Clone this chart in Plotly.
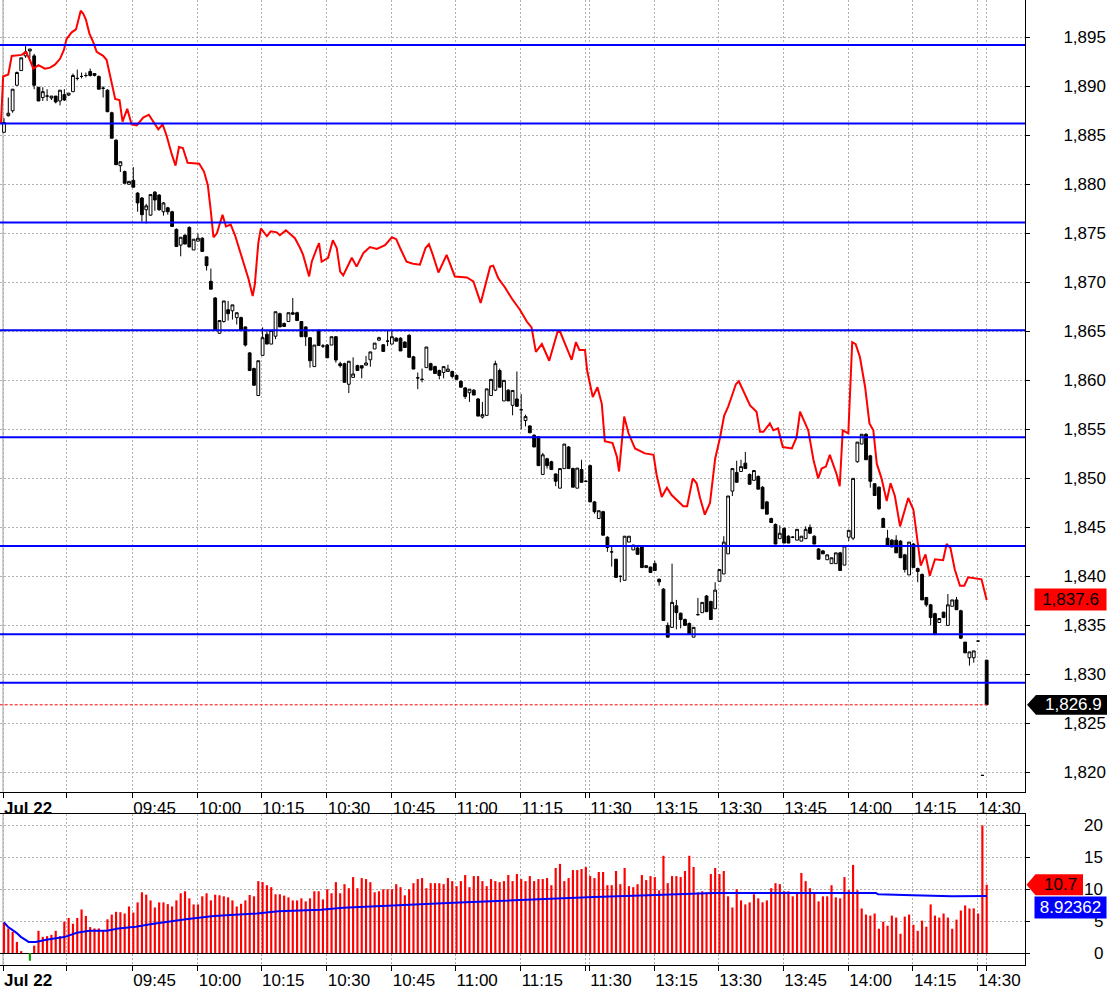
import plotly.graph_objects as go

# ---------------- data (1-minute bars, Jul 22) ----------------
opens = [
    1885.3, 1887.0, 1887.5, 1890.1, 1891.6, 1893.1, 1893.6, 1893.1, 1889.9, 1888.85,
    1889.0, 1888.8, 1889.0, 1888.5, 1889.15, 1889.1, 1889.45, 1890.8, 1891.0, 1891.1,
    1891.5, 1891.1, 1891.0, 1889.8, 1889.6, 1887.3, 1884.5, 1881.9, 1881.3, 1880.0,
    1880.4, 1879.1, 1878.6, 1877.4, 1876.85, 1879.2, 1878.9, 1877.2, 1877.6, 1877.2,
    1875.4, 1873.8, 1874.8, 1875.6, 1873.3, 1874.2, 1874.5, 1872.6, 1870.1, 1868.4,
    1864.8, 1866.0, 1867.2, 1867.1, 1866.4, 1866.4, 1865.45, 1862.8, 1861.2, 1858.45,
    1862.55, 1864.7, 1863.7, 1864.5, 1866.8, 1865.8, 1866.0, 1866.9, 1866.9, 1866.0,
    1865.45, 1864.35, 1861.4, 1865.1, 1863.5, 1863.6, 1863.6, 1864.45, 1861.7, 1861.7,
    1859.6, 1860.3, 1861.5, 1861.5, 1861.55, 1862.1, 1863.2, 1864.1, 1863.63, 1864.0,
    1863.7, 1864.3, 1864.3, 1863.9, 1864.6, 1862.4, 1860.25, 1860.1, 1861.3, 1861.7,
    1861.4, 1861.0, 1860.8, 1860.9, 1860.9, 1860.5, 1859.9, 1859.23, 1858.73, 1859.0,
    1858.1, 1856.25, 1856.43, 1858.45, 1859.0, 1861.0, 1857.9, 1859.0, 1857.45, 1858.1,
    1857.0, 1855.9, 1855.35, 1854.4, 1854.25, 1850.4, 1852.0, 1851.7, 1850.45, 1849.0,
    1851.0, 1853.2, 1851.0, 1849.0, 1850.9, 1849.7, 1851.3, 1847.6, 1845.9, 1846.6,
    1844.0, 1842.5, 1841.75, 1840.0, 1839.6, 1843.5, 1842.7, 1842.9, 1843.0, 1840.9,
    1840.95, 1841.3, 1839.7, 1838.7, 1835.0, 1834.8, 1837.0, 1836.25, 1835.6, 1835.2,
    1833.8, 1836.1, 1836.3, 1838.0, 1837.45, 1836.7, 1839.5, 1840.25, 1842.3, 1848.7,
    1850.6, 1850.7, 1851.55, 1850.4, 1849.8, 1850.2, 1849.1, 1847.6, 1845.9, 1845.3,
    1843.85, 1844.9, 1844.1, 1844.0, 1843.7, 1843.6, 1843.85, 1845.0, 1844.1, 1842.8,
    1842.6, 1841.7, 1841.3, 1841.3, 1842.4, 1841.15, 1844.0, 1843.9, 1851.7, 1853.5,
    1854.5, 1852.3, 1849.45, 1849.1, 1845.9, 1843.9, 1843.7, 1843.7, 1843.6, 1842.2,
    1840.15, 1843.3, 1840.8, 1840.2, 1837.85, 1837.1, 1836.2, 1835.3, 1836.35, 1835.0,
    1836.95, 1837.6, 1836.5, 1833.3, 1831.7, 1831.7, 1833.4, 1819.7, 1831.45,
]
highs = [
    1886.75, 1888.85, 1889.7, 1891.5, 1892.9, 1894.1, 1893.8, 1893.3, 1889.9, 1889.9,
    1889.7, 1889.0, 1889.0, 1889.6, 1889.7, 1889.3, 1891.3, 1891.7, 1891.4, 1891.4,
    1891.8, 1891.3, 1891.1, 1890.0, 1889.7, 1887.4, 1884.6, 1882.3, 1881.4, 1880.3,
    1881.75, 1879.2, 1878.7, 1878.0, 1879.0, 1879.3, 1879.0, 1878.2, 1877.7, 1877.3,
    1875.5, 1874.6, 1874.9, 1875.7, 1874.4, 1875.0, 1874.6, 1872.6, 1871.4, 1868.5,
    1866.1, 1868.1, 1868.1, 1867.7, 1866.9, 1866.5, 1865.5, 1862.9, 1861.3, 1862.0,
    1865.4, 1865.1, 1865.1, 1867.0, 1866.9, 1865.9, 1866.9, 1868.4, 1867.0, 1866.0,
    1865.5, 1864.4, 1863.6, 1865.2, 1863.7, 1863.7, 1864.45, 1864.5, 1861.9, 1861.8,
    1861.95, 1862.35, 1861.6, 1861.5, 1862.5, 1862.9, 1863.8, 1864.45, 1863.7, 1865.1,
    1865.1, 1864.4, 1864.4, 1864.0, 1864.7, 1862.5, 1860.8, 1861.2, 1863.4, 1861.8,
    1861.5, 1861.1, 1861.4, 1861.6, 1861.0, 1860.6, 1860.0, 1859.3, 1859.1, 1859.1,
    1858.2, 1857.8, 1859.13, 1860.1, 1862.0, 1861.2, 1860.0, 1859.1, 1858.97, 1860.9,
    1858.6, 1856.5, 1855.4, 1854.5, 1854.3, 1852.6, 1852.1, 1851.8, 1850.5, 1851.0,
    1853.5, 1853.3, 1851.1, 1851.05, 1851.9, 1849.8, 1851.4, 1847.7, 1846.7, 1846.7,
    1844.1, 1843.0, 1841.8, 1840.1, 1844.1, 1844.1, 1843.2, 1843.0, 1843.1, 1841.1,
    1841.0, 1841.6, 1839.8, 1838.8, 1835.3, 1841.3, 1837.6, 1836.3, 1835.7, 1835.3,
    1834.8, 1837.8, 1837.35, 1838.1, 1837.5, 1839.4, 1840.7, 1844.1, 1848.2, 1851.0,
    1851.8, 1851.9, 1852.7, 1850.5, 1850.8, 1850.3, 1849.2, 1847.7, 1846.0, 1845.4,
    1845.2, 1845.0, 1844.2, 1844.1, 1844.8, 1844.1, 1845.1, 1845.3, 1844.2, 1842.9,
    1842.7, 1842.2, 1841.9, 1842.4, 1842.5, 1843.1, 1844.7, 1850.0, 1853.7, 1854.5,
    1854.6, 1852.4, 1849.5, 1849.2, 1846.0, 1844.75, 1843.8, 1844.2, 1843.7, 1842.3,
    1843.5, 1843.4, 1840.9, 1840.3, 1837.9, 1837.2, 1836.3, 1835.7, 1836.4, 1838.2,
    1837.6, 1837.9, 1836.6, 1833.3, 1832.3, 1832.4, 1833.4, 1819.7, 1831.5,
]
lows = [
    1885.3, 1886.9, 1887.3, 1890.1, 1891.6, 1892.9, 1892.9, 1889.7, 1888.5, 1888.5,
    1888.5, 1888.6, 1888.25, 1888.05, 1888.5, 1889.0, 1889.4, 1890.6, 1890.8, 1890.9,
    1891.0, 1891.0, 1889.7, 1888.85, 1887.4, 1884.7, 1882.0, 1881.25, 1880.1, 1880.0,
    1879.7, 1877.2, 1876.2, 1876.0, 1876.8, 1877.3, 1877.3, 1876.8, 1876.9, 1875.7,
    1873.6, 1872.65, 1873.9, 1873.6, 1873.3, 1874.2, 1873.1, 1871.2, 1869.3, 1865.05,
    1864.8, 1865.9, 1866.1, 1866.2, 1865.7, 1865.1, 1863.45, 1861.0, 1859.5, 1858.45,
    1862.5, 1863.7, 1863.7, 1864.2, 1865.45, 1865.5, 1866.0, 1866.7, 1866.1, 1864.45,
    1863.5, 1861.3, 1861.4, 1863.55, 1863.3, 1862.3, 1863.6, 1861.8, 1861.3, 1859.8,
    1858.7, 1860.3, 1861.0, 1860.2, 1861.55, 1861.4, 1863.2, 1864.0, 1862.95, 1863.5,
    1863.7, 1864.0, 1863.0, 1863.35, 1862.35, 1861.15, 1859.1, 1859.8, 1861.3, 1861.05,
    1860.7, 1860.1, 1860.2, 1860.9, 1860.2, 1860.1, 1859.3, 1858.1, 1857.8, 1858.5,
    1856.35, 1856.1, 1856.4, 1858.4, 1858.9, 1859.3, 1857.9, 1857.9, 1856.43, 1857.3,
    1855.0, 1855.3, 1854.65, 1853.2, 1851.3, 1850.4, 1851.0, 1850.9, 1849.2, 1849.0,
    1851.0, 1851.0, 1849.1, 1849.0, 1849.6, 1849.6, 1847.6, 1846.4, 1845.9, 1844.2,
    1842.5, 1841.0, 1839.9, 1839.4, 1839.6, 1843.5, 1842.7, 1842.25, 1840.9, 1840.9,
    1840.4, 1840.6, 1839.05, 1835.5, 1833.8, 1834.8, 1834.6, 1834.7, 1835.0, 1834.15,
    1833.8, 1836.0, 1836.3, 1836.4, 1835.6, 1836.7, 1839.5, 1840.25, 1842.3, 1848.2,
    1849.6, 1850.7, 1851.0, 1849.4, 1849.8, 1848.9, 1846.9, 1846.35, 1845.5, 1843.3,
    1843.85, 1843.4, 1843.4, 1843.9, 1843.7, 1843.6, 1843.85, 1844.4, 1843.3, 1841.75,
    1842.3, 1841.7, 1841.3, 1841.3, 1840.6, 1841.15, 1843.6, 1843.7, 1851.6, 1853.5,
    1851.9, 1849.05, 1848.25, 1846.8, 1845.0, 1843.2, 1843.0, 1842.4, 1841.9, 1840.4,
    1840.15, 1840.9, 1839.4, 1837.6, 1836.9, 1835.0, 1834.0, 1835.3, 1835.8, 1835.0,
    1836.95, 1836.6, 1833.6, 1832.2, 1830.9, 1831.2, 1833.4, 1819.7, 1826.9,
]
closes = [
    1886.3, 1887.25, 1889.7, 1891.4, 1892.9, 1893.5, 1893.8, 1890.1, 1888.5, 1889.45,
    1889.0, 1889.0, 1888.4, 1889.6, 1888.6, 1889.3, 1891.1, 1890.8, 1891.0, 1891.1,
    1891.1, 1891.3, 1889.7, 1889.8, 1887.4, 1884.7, 1882.0, 1882.3, 1880.1, 1880.3,
    1879.7, 1878.1, 1876.9, 1877.8, 1878.95, 1878.4, 1877.4, 1878.1, 1877.2, 1875.7,
    1873.65, 1874.6, 1873.9, 1873.6, 1874.4, 1874.5, 1873.15, 1871.7, 1869.3, 1865.1,
    1866.1, 1868.1, 1866.8, 1867.7, 1866.9, 1865.1, 1863.6, 1861.0, 1859.5, 1862.0,
    1864.35, 1863.7, 1865.1, 1867.0, 1865.45, 1865.5, 1866.9, 1866.75, 1866.1, 1864.45,
    1864.45, 1862.0, 1863.6, 1863.55, 1863.5, 1862.3, 1864.45, 1862.07, 1861.5, 1859.8,
    1861.95, 1860.65, 1861.0, 1861.25, 1861.77, 1862.9, 1863.8, 1864.35, 1862.95, 1864.0,
    1864.45, 1864.0, 1863.0, 1863.35, 1862.35, 1861.15, 1860.25, 1860.1, 1863.4, 1861.05,
    1860.7, 1860.5, 1861.4, 1861.15, 1860.4, 1860.1, 1859.3, 1858.35, 1859.1, 1858.5,
    1856.35, 1856.5, 1859.13, 1860.1, 1861.7, 1859.3, 1860.0, 1857.9, 1858.97, 1857.35,
    1857.0, 1856.3, 1854.65, 1853.2, 1851.3, 1852.4, 1851.3, 1850.9, 1849.7, 1851.0,
    1853.5, 1851.0, 1849.1, 1851.05, 1849.6, 1849.7, 1847.6, 1846.6, 1846.7, 1844.2,
    1842.95, 1842.5, 1839.9, 1840.0, 1844.1, 1844.1, 1843.2, 1842.25, 1840.9, 1841.1,
    1840.4, 1840.6, 1839.45, 1835.5, 1833.8, 1837.35, 1836.3, 1835.6, 1835.0, 1834.15,
    1834.8, 1836.1, 1837.35, 1836.4, 1835.6, 1838.6, 1840.7, 1843.5, 1848.2, 1851.0,
    1849.6, 1851.2, 1851.0, 1849.4, 1850.8, 1848.9, 1846.9, 1846.35, 1845.5, 1843.3,
    1844.4, 1843.4, 1843.4, 1844.0, 1844.8, 1844.1, 1844.8, 1844.4, 1843.3, 1841.75,
    1842.3, 1842.2, 1841.9, 1842.4, 1840.6, 1843.1, 1844.7, 1850.0, 1853.7, 1854.5,
    1851.9, 1849.7, 1848.25, 1846.9, 1845.0, 1843.2, 1843.0, 1842.4, 1841.9, 1840.7,
    1843.5, 1840.9, 1840.5, 1837.6, 1837.1, 1835.8, 1834.1, 1835.7, 1835.8, 1837.1,
    1837.6, 1836.6, 1833.7, 1832.2, 1832.3, 1832.4, 1833.4, 1819.7, 1826.9,
]
volumes = [
    4.76, 3.86, 3.33, 1.75, 0.26, 0, 0, 1.16, 3.49, 2.54,
    2.65, 2.86, 3.49, 2.65, 4.92, 5.50, 4.60, 5.50, 6.83, 5.82,
    4.07, 3.86, 3.86, 3.49, 5.29, 6.03, 6.46, 6.40, 6.19, 7.30,
    6.35, 7.94, 9.52, 9.15, 8.25, 7.14, 7.94, 7.94, 7.67, 7.30,
    8.25, 9.37, 9.68, 8.57, 7.62, 7.62, 8.89, 9.37, 8.25, 9.15,
    9.05, 8.89, 8.73, 8.25, 7.30, 7.72, 8.25, 9.10, 8.89, 11.27,
    11.11, 10.63, 10.32, 9.21, 9.21, 9.0, 8.73, 8.25, 8.25, 8.57,
    8.1, 8.57, 9.68, 9.68, 8.41, 10.0, 9.37, 11.11, 9.37, 10.79,
    10.16, 11.9, 10.16, 11.75, 11.59, 11.11, 9.52, 9.68, 10.0, 10.0,
    10.0, 10.79, 10.32, 9.05, 10.0, 10.95, 11.59, 11.75, 10.16, 10.95,
    10.95, 10.95, 10.79, 11.75, 11.27, 10.48, 11.27, 12.22, 10.32, 12.06,
    12.06, 11.27, 10.48, 11.59, 11.27, 11.11, 11.27, 12.22, 11.27, 12.38,
    11.59, 11.27, 12.06, 11.27, 11.59, 11.59, 11.75, 10.63, 13.33, 13.97,
    11.27, 11.75, 13.0, 13.0, 13.17, 13.49, 12.06, 11.75, 12.7, 12.7,
    10.63, 10.63, 12.86, 10.79, 13.33, 10.48, 10.32, 10.79, 12.22, 11.43,
    12.06, 11.9, 9.84, 15.24, 10.95, 12.06, 12.06, 11.9, 12.86, 15.24,
    13.49, 9.52, 9.68, 9.52, 12.38, 13.33, 12.38, 12.86, 8.89, 7.14,
    10.0, 8.25, 7.62, 7.94, 9.21, 8.57, 7.94, 8.25, 10.16, 10.95,
    10.79, 9.68, 9.68, 8.89, 9.52, 12.54, 11.27, 10.16, 9.52, 8.1,
    8.89, 8.89, 10.63, 8.73, 8.57, 11.9, 9.84, 13.81, 9.84, 6.98,
    6.03, 5.87, 6.19, 3.81, 4.92, 4.29, 5.87, 5.56, 3.02, 5.71,
    6.03, 4.44, 3.49, 5.08, 4.13, 7.62, 5.87, 5.56, 6.19, 5.56,
    3.81, 5.24, 6.67, 7.46, 6.98, 7.0, 6.2, 20.0, 10.7,
]
bar_index = list(range(len(closes)))

# red comparison line (bar position, price)
red_x = [
    -0.7, -0.2, 1.0, 1.8, 4.1, 5.1, 6.0, 6.8, 8.0, 9.5, 10.7, 11.8, 13.0, 13.9, 14.5,
    15.7, 16.7, 17.2, 17.8, 18.4, 19.0, 19.8, 20.7, 21.5, 23.0, 23.8, 24.6, 25.8, 26.8,
    27.5, 28.6, 29.6, 30.8, 32.3, 33.6, 34.8, 35.8, 36.8, 37.7, 38.9, 39.8, 40.6, 41.5,
    42.6, 45.3, 46.4, 47.3, 48.0, 48.6, 49.4, 50.1, 50.7, 51.5, 52.6, 53.6, 54.8, 56.7,
    57.7, 58.2, 59.0, 59.6, 61.0, 61.9, 63.3, 64.0, 65.4, 67.5, 68.7, 69.4, 70.8, 71.4,
    72.6, 73.1, 73.7, 75.2, 76.3, 77.2, 78.0, 78.7, 80.7, 81.8, 83.4, 84.9, 86.5, 88.4,
    90.0, 91.0, 91.9, 93.4, 94.9, 96.5, 97.8, 98.6, 99.5, 100.8, 102.7, 104.6, 107.4,
    108.9, 110.6, 112.8, 113.5, 114.7, 116.2, 117.9, 119.7, 121.3, 122.4, 123.4, 124.8,
    126.5, 128.4, 129.0, 130.2, 131.7, 132.7, 133.5, 134.8, 135.3, 136.6, 137.7, 138.7,
    139.4, 141.2, 142.2, 142.7, 143.9, 144.9, 146.4, 148.7, 150.7, 151.4, 152.6, 153.8,
    154.9, 156.4, 157.6, 158.5, 159.8, 160.7, 161.5, 162.6, 163.8, 165.0, 166.1, 167.1,
    168.0, 168.8, 169.8, 170.5, 171.5, 172.3, 173.1, 174.6, 175.4, 176.2, 177.7, 178.5,
    179.6, 180.7, 182.8, 183.9, 184.7, 185.6, 186.6, 187.8, 188.9, 189.7, 190.7, 191.6,
    192.4, 193.2, 193.9, 194.6, 195.9, 196.3, 196.8, 197.6, 198.6, 199.8, 200.8, 201.7,
    202.5, 203.6, 204.8, 205.7, 206.7, 207.9, 209.8, 211.0, 212.1, 212.7, 213.8, 214.8,
    216.0, 217.9, 218.7, 219.6, 220.6, 221.8, 222.8, 223.7, 226.8, 227.2, 228.0,
]
red_y = [
    1886.2, 1891.0, 1891.2, 1893.1, 1893.2, 1893.5, 1892.7, 1891.8, 1892.15, 1891.8, 1891.9, 1892.2, 1892.8, 1893.7, 1894.8,
    1895.5, 1895.8, 1896.7, 1897.7, 1897.4, 1896.8, 1895.4, 1894.5, 1893.5, 1893.1, 1892.7, 1891.2, 1888.7, 1888.6,
    1886.4, 1887.7, 1886.1, 1886.0, 1886.8, 1887.1, 1886.2, 1885.6, 1886.1, 1885.0, 1883.1, 1881.9, 1883.8, 1883.7,
    1882.2, 1882.1, 1881.3, 1879.9, 1877.2, 1874.6, 1875.0, 1875.9, 1876.9, 1875.7, 1875.9, 1874.8, 1873.1, 1870.4,
    1868.6, 1869.8, 1874.0, 1875.5, 1874.7, 1875.2, 1875.1, 1874.8, 1875.3, 1874.5, 1873.5, 1872.8, 1870.6, 1872.1,
    1873.5, 1874.0, 1872.1, 1872.5, 1874.3, 1873.5, 1871.1, 1870.7, 1872.5, 1871.6, 1873.0, 1873.6, 1873.4, 1873.8,
    1874.6, 1874.4, 1873.5, 1872.1, 1871.9, 1871.8, 1873.5, 1873.9, 1872.8, 1871.0, 1872.8, 1870.6, 1870.5,
    1870.1, 1867.9, 1871.6, 1871.7, 1870.4, 1869.5, 1868.3, 1867.2, 1866.0, 1865.4, 1862.9, 1863.7,
    1862.0, 1864.9, 1865.0, 1863.7, 1862.1, 1863.9, 1863.1, 1863.1, 1861.0, 1858.3, 1859.3, 1857.6,
    1853.8, 1853.6, 1852.2, 1850.7, 1856.3, 1854.6, 1853.05, 1852.55, 1852.4, 1850.4, 1848.1, 1849.05,
    1848.3, 1847.66, 1847.15, 1847.15, 1850.0, 1849.5, 1848.0, 1846.3, 1847.5, 1852.0, 1854.1, 1856.4,
    1857.3, 1858.3, 1859.6, 1859.9, 1859.0, 1858.3, 1857.45, 1856.8, 1854.75, 1854.75, 1855.6, 1854.9,
    1855.1, 1853.2, 1853.06, 1854.2, 1856.8, 1855.9, 1854.9, 1851.9, 1850.0, 1851.0, 1851.2, 1852.4,
    1851.5, 1850.4, 1849.2, 1854.9, 1854.6, 1858.3, 1863.9, 1863.7, 1862.35, 1859.3, 1855.6, 1854.9,
    1851.5, 1850.0, 1847.7, 1849.5, 1848.2, 1845.1, 1848.0, 1846.8, 1843.1, 1841.1, 1842.25, 1840.06,
    1841.75, 1841.65, 1843.3, 1842.9, 1840.7, 1839.05, 1839.05, 1839.9, 1839.7, 1839.05, 1837.6,
]

# volume average line (bar position, value)
vol_avg_x = [0, 0.9, 2.9, 3.9, 4.9, 5.7, 7.4, 9.8, 14.0, 16.9, 19.8, 23.9, 26.5, 30.6, 33.9,
             38.1, 42.2, 48.7, 52.9, 58.7, 63.7, 73.5, 78.7, 81.9, 90.3, 96.1, 104.3, 110.1,
             119.3, 128.3, 136.9, 149.5, 164.6, 202.3, 202.8, 210.8, 220.0, 228.0]
vol_avg_y = [4.8, 4.13, 3.17, 2.54, 2.1, 1.75, 1.75, 2.1, 2.5, 3.17, 3.5, 3.5, 3.86, 4.13, 4.5,
             4.92, 5.29, 5.82, 5.93, 6.19, 6.56, 6.77, 7.09, 7.2, 7.51, 7.67, 7.88, 8.04,
             8.3, 8.57, 8.78, 9.05, 9.42, 9.42, 9.2, 9.05, 8.89, 8.92362]

marker_x = [6]
marker_y = [-1.2]

levels = [1894.2, 1886.2, 1876.1, 1865.1, 1854.2, 1843.1, 1834.1, 1829.15]

tick_pos = [-0.23, 14.55, 29.77, 44.94, 59.63, 74.87, 89.95, 104.76, 119.88, 134.97, 135.8,
            150.88, 165.73, 180.82, 195.9, 210.9, 225.8, 228.0]
tick_text = ["<b>Jul 22</b>", "", "09:45", "10:00", "10:15", "10:30", "10:45", "11:00", "11:15",
             "", "11:30", "13:15", "13:30", "13:45", "14:00", "14:15", "14:30", ""]

price_ticks = [1820, 1825, 1830, 1835, 1840, 1845, 1850, 1855, 1860, 1865, 1870, 1875, 1880, 1885, 1890, 1895]
vol_ticks = [0, 5, 10, 15, 20]

last_close = 1826.9
red_last = 1837.6
vol_last = 10.7
vol_avg_last = 8.92362

# ---------------- layout geometry ----------------
FIG_W, FIG_H = 1107, 990
PLOT_W = 1025                      # right axis line position
MARGIN_B = 18
PLOT_H = FIG_H - MARGIN_B
MAIN_TOP, MAIN_BOT = 0, 798
VOL_TOP, VOL_BOT = 820, 972
PRICE_RANGE = [1817.98, 1898.8]
VOL_RANGE = [-1.87, 21.77]
X_RANGE = [-0.928, 236.89]
FONT = "Liberation Sans, Arial, sans-serif"

main_domain = [(PLOT_H - MAIN_BOT) / PLOT_H, 1.0]
vol_domain = [0.0, (PLOT_H - VOL_TOP) / PLOT_H]


def px(x):
    return x / PLOT_W


price_per_px = (PRICE_RANGE[1] - PRICE_RANGE[0]) / (MAIN_BOT - MAIN_TOP)
vol_per_px = (VOL_RANGE[1] - VOL_RANGE[0]) / (VOL_BOT - VOL_TOP)

fig = go.Figure()

fig.add_trace(go.Candlestick(
    x=bar_index, open=opens, high=highs, low=lows, close=closes,
    increasing=dict(line=dict(color="black", width=1), fillcolor="white"),
    decreasing=dict(line=dict(color="black", width=1), fillcolor="black"),
    whiskerwidth=0, xaxis="x", yaxis="y", showlegend=False, hoverinfo="skip",
))
fig.add_trace(go.Scatter(
    x=red_x, y=red_y, mode="lines", line=dict(color="#ff0000", width=2),
    xaxis="x", yaxis="y", showlegend=False, hoverinfo="skip",
))
fig.add_trace(go.Bar(
    x=bar_index, y=volumes, width=0.5, marker=dict(color="#ff0000", line=dict(width=0)),
    xaxis="x2", yaxis="y2", showlegend=False, hoverinfo="skip",
))
fig.add_trace(go.Bar(
    x=marker_x, y=marker_y, width=0.5, marker=dict(color="#00a000", line=dict(width=0)),
    xaxis="x2", yaxis="y2", showlegend=False, hoverinfo="skip",
))
fig.add_trace(go.Scatter(
    x=vol_avg_x, y=vol_avg_y, mode="lines", line=dict(color="#0000ff", width=2),
    xaxis="x2", yaxis="y2", showlegend=False, hoverinfo="skip",
))

xaxis_common = dict(
    range=X_RANGE, tickmode="array", tickvals=tick_pos, ticktext=tick_text,
    ticks="outside", ticklen=5, tickcolor="black", tickwidth=1,
    ticklabelposition="outside right",
    showline=True, linecolor="black", linewidth=1,
    showgrid=True, gridcolor="#b0b0b0", griddash="2px,2px", gridwidth=1,
    zeroline=False, tickfont=dict(family=FONT, size=17, color="black"),
    fixedrange=True,
)

fig.update_layout(
    width=FIG_W, height=FIG_H,
    margin=dict(l=0, r=FIG_W - PLOT_W, t=0, b=MARGIN_B, pad=0),
    paper_bgcolor="white", plot_bgcolor="white",
    showlegend=False, barmode="overlay",
    boxgap=0.35, boxgroupgap=0,
    xaxis=dict(**xaxis_common, anchor="y", domain=[0, 1], rangeslider=dict(visible=False)),
    xaxis2=dict(**xaxis_common, anchor="y2", domain=[0, 1], matches="x", mirror=True),
    yaxis=dict(
        domain=main_domain, range=PRICE_RANGE, side="right", anchor="x",
        tickmode="array", tickvals=price_ticks, ticktext=[f"{v:,}" for v in price_ticks],
        ticks="outside", ticklen=4, tickcolor="black", ticklabelstandoff=30,
        showline=True, linecolor="black", linewidth=1,
        showgrid=True, gridcolor="#b0b0b0", griddash="2px,2px", gridwidth=1,
        zeroline=False, tickfont=dict(family=FONT, size=17, color="black"), fixedrange=True,
    ),
    yaxis2=dict(
        domain=vol_domain, range=VOL_RANGE, side="right", anchor="x2",
        tickmode="array", tickvals=vol_ticks, showticklabels=False,
        ticks="outside", ticklen=4, tickcolor="black",
        showline=True, linecolor="black", linewidth=1,
        showgrid=True, gridcolor="#b0b0b0", griddash="2px,2px", gridwidth=1,
        zeroline=True, zerolinecolor="black", zerolinewidth=1, fixedrange=True,
    ),
)

shapes = []
# day separator
for yr in ("y domain", "y2 domain"):
    shapes.append(dict(type="line", xref="x", x0=tick_pos[0], x1=tick_pos[0],
                       yref=yr, y0=0, y1=1, line=dict(color="#a0a0a0", width=1), layer="below"))
# horizontal levels
for lv in levels:
    shapes.append(dict(type="line", xref="x domain", x0=0, x1=1, yref="y", y0=lv, y1=lv,
                       line=dict(color="#0000ff", width=2), layer="above"))
# last price dashed line
shapes.append(dict(type="line", xref="x", x0=bar_index[0] - 1, x1=bar_index[-1], yref="y",
                   y0=last_close, y1=last_close,
                   line=dict(color="#ff0000", width=1, dash="3px,2px"), layer="above"))
# last price arrow box
half = 10 * price_per_px
tip, left, right = px(1027), px(1036), px(1107)
shapes.append(dict(type="path", xref="paper", yref="y",
                   path=(f"M {tip},{last_close} L {left},{last_close + half} L {right},{last_close + half} "
                         f"L {right},{last_close - half} L {left},{last_close - half} Z"),
                   fillcolor="black", line=dict(width=0), layer="above"))
# volume last arrow box
vh = 10.5 * vol_per_px
vtip, vleft, vright = px(1026.5), px(1035.5), px(1083)
shapes.append(dict(type="path", xref="paper", yref="y2",
                   path=(f"M {vtip},{vol_last} L {vleft},{vol_last + vh} L {vright},{vol_last + vh} "
                         f"L {vright},{vol_last - vh} L {vleft},{vol_last - vh} Z"),
                   fillcolor="#ff0000", line=dict(width=0), layer="above"))
fig.update_layout(shapes=shapes)

annotations = []
for v in vol_ticks:
    annotations.append(dict(x=px(1105), xref="paper", xanchor="right", y=v, yref="y2", yanchor="middle",
                            text=str(v), showarrow=False, font=dict(family=FONT, size=17, color="black")))
annotations.append(dict(x=px(1107), xref="paper", xanchor="right", y=red_last, yref="y", yanchor="middle",
                        text=f"{red_last:,.1f}", showarrow=False, bgcolor="#ff0000",
                        width=71, height=21, borderpad=0, align="center", valign="middle",
                        font=dict(family=FONT, size=17, color="black")))
annotations.append(dict(x=px(1073), xref="paper", xanchor="center", y=last_close, yref="y", yanchor="middle",
                        text=f"{last_close:,.1f}", showarrow=False,
                        font=dict(family=FONT, size=17, color="white")))
annotations.append(dict(x=px(1060), xref="paper", xanchor="center", y=vol_last, yref="y2", yanchor="middle",
                        text=f"{vol_last}", showarrow=False,
                        font=dict(family=FONT, size=17, color="black")))
annotations.append(dict(x=px(1107), xref="paper", xanchor="right", y=vol_avg_last, yref="y2", yanchor="middle",
                        yshift=-11, text=f"{vol_avg_last}", showarrow=False, bgcolor="#0000ff",
                        width=71, height=21, borderpad=0, align="center", valign="middle",
                        font=dict(family=FONT, size=17, color="white")))
fig.update_layout(annotations=annotations)

fig.write_html("out.html", include_plotlyjs=True, config={"displayModeBar": False})
